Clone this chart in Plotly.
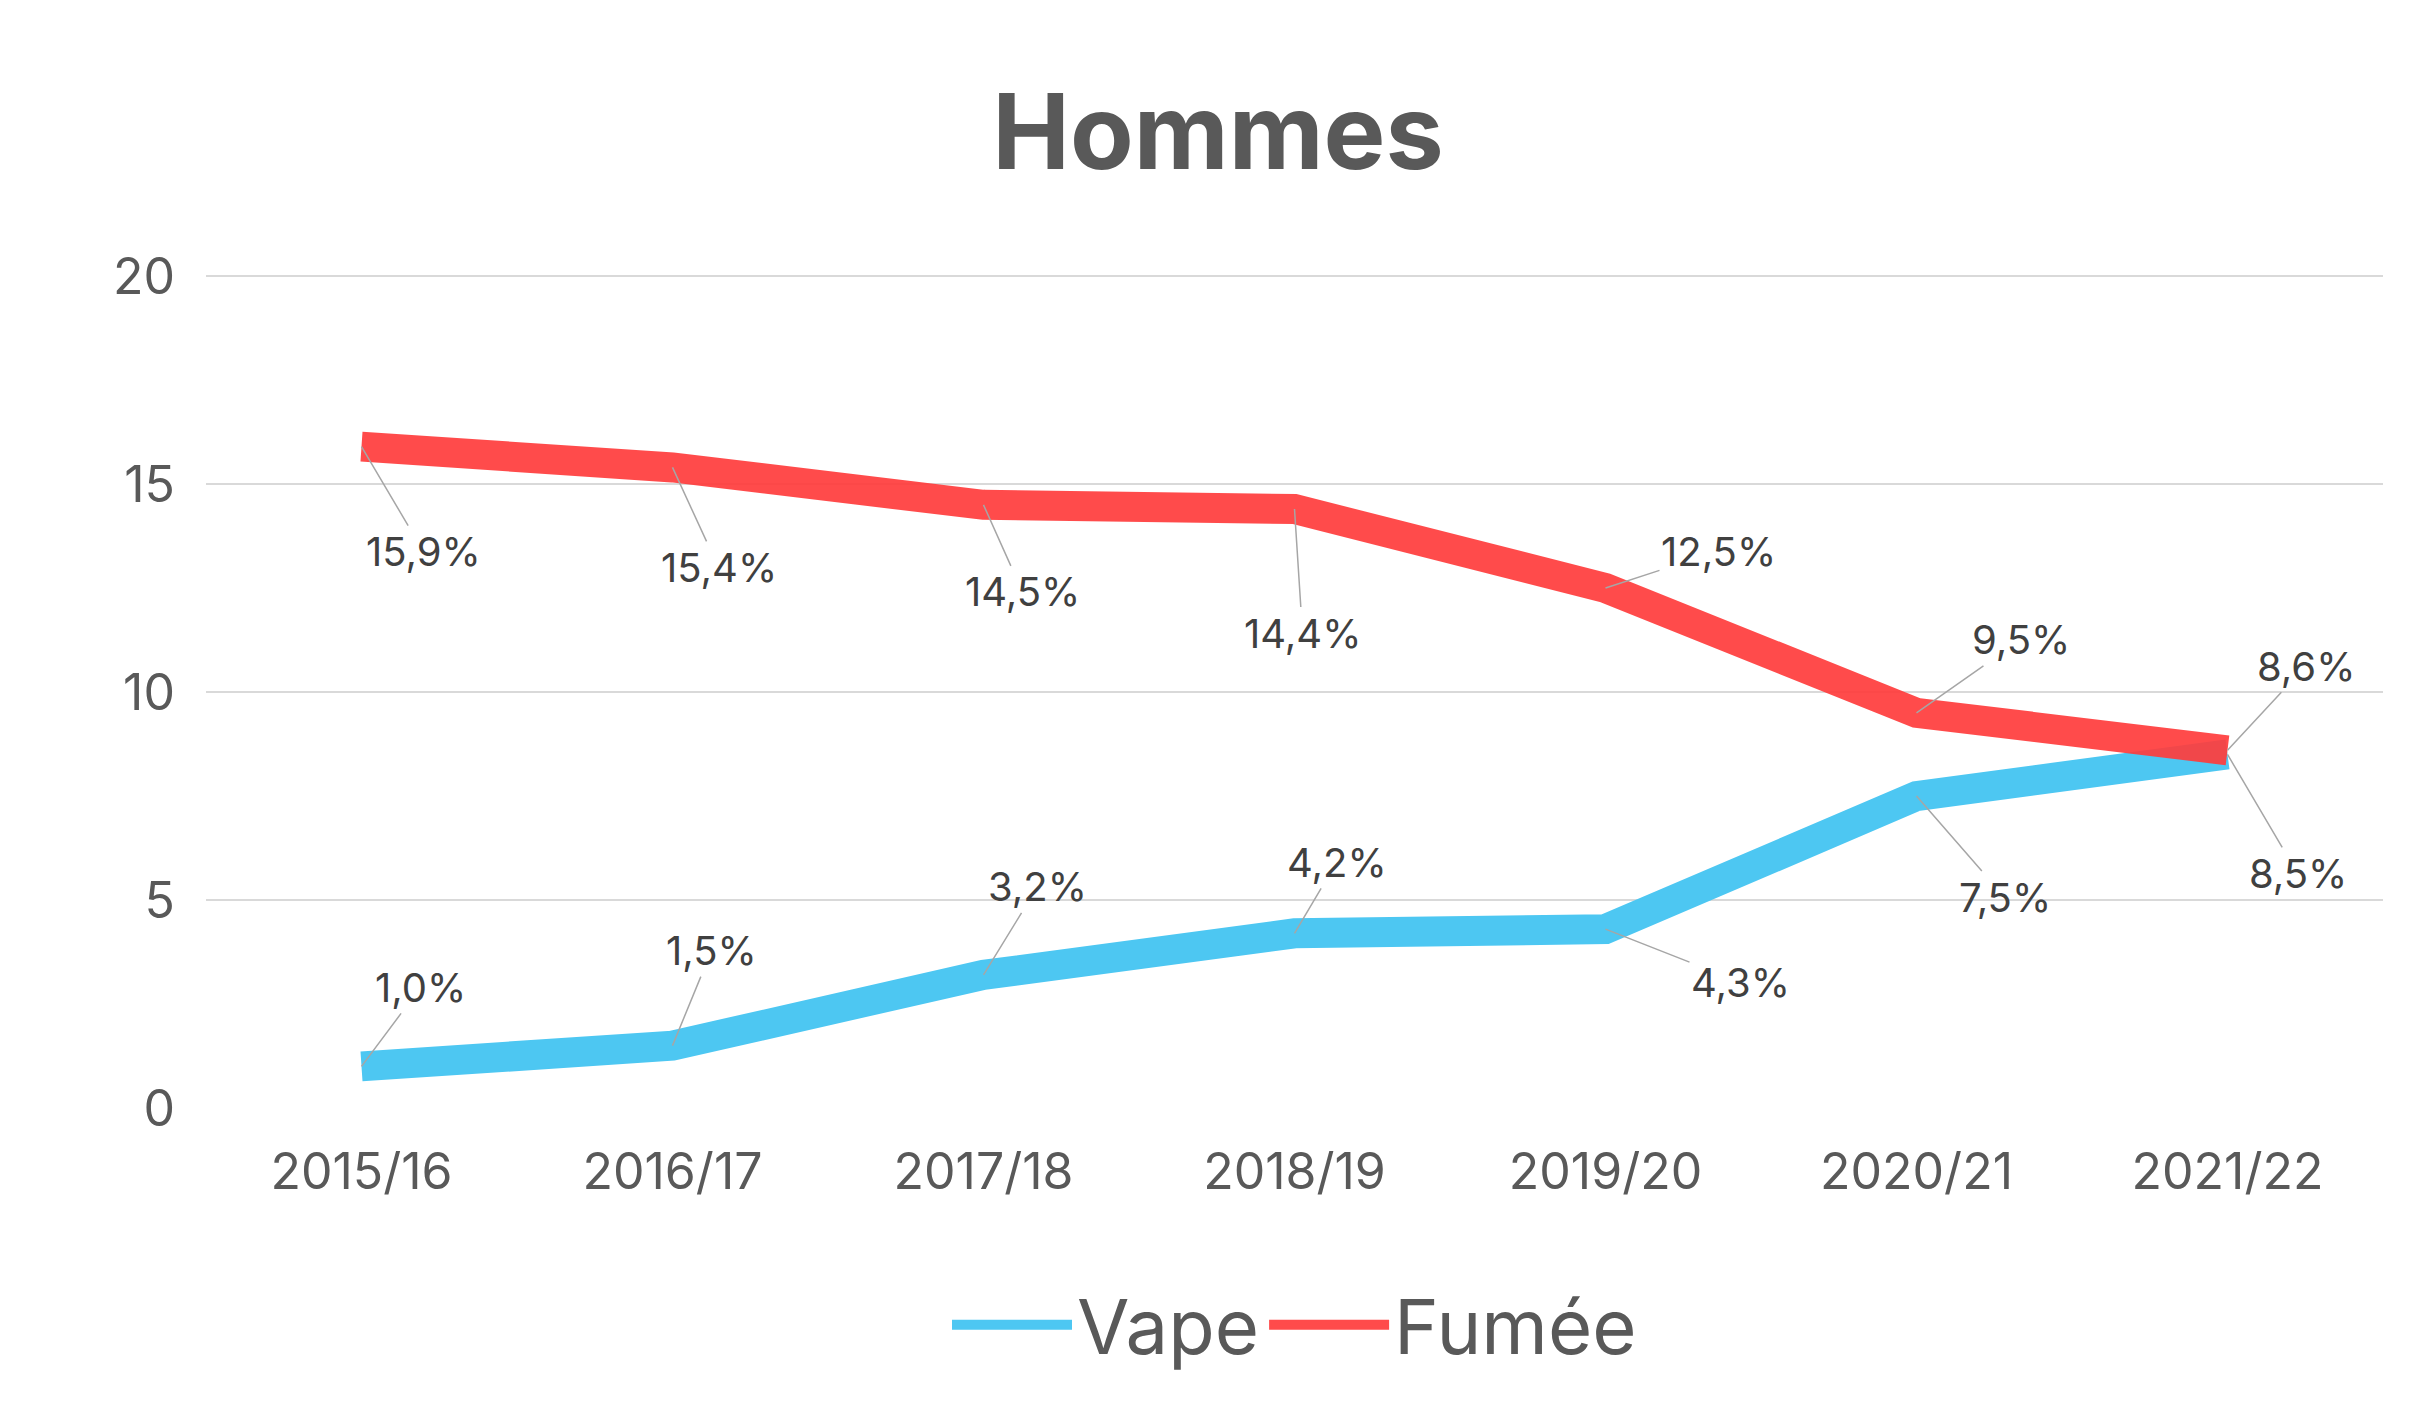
import plotly.graph_objects as go

annees = ["2015/16", "2016/17", "2017/18", "2018/19", "2019/20", "2020/21", "2021/22"]
vape = [1.0, 1.5, 3.2, 4.2, 4.3, 7.5, 8.5]
fumee = [15.9, 15.4, 14.5, 14.4, 12.5, 9.5, 8.6]

# label offsets (pixels) from each point
off_vape = [(59, -79), (39, -95), (54, -88), (42, -71), (135, 53), (88, 101), (70, 119)]
off_fumee = [(62, 105), (46, 100), (39, 87), (8, 124), (113, -37), (104, -73), (78, -84)]

font = "Inter"
fig = go.Figure()
fig.add_trace(go.Scatter(x=annees, y=vape, mode="lines", name="Vape",
                         line=dict(color="#4DC7F2", width=30)))
fig.add_trace(go.Scatter(x=annees, y=fumee, mode="lines", name="Fumée",
                         line=dict(color="rgba(255,60,60,0.92)", width=30)))

def lab(v):
    return f"{v:.1f}".replace(".", ",") + "%"

for vals, offs in ((fumee, off_fumee), (vape, off_vape)):
    for a, v, (dx, dy) in zip(annees, vals, offs):
        fig.add_annotation(x=a, y=v, text=lab(v), ax=dx, ay=dy, showarrow=True,
                           arrowhead=0, arrowwidth=1.5, arrowcolor="#A6A6A6",
                           font=dict(family=font, size=40, color="#404040"))

fig.update_layout(
    width=2420, height=1416, paper_bgcolor="white", plot_bgcolor="white",
    margin=dict(l=198, r=45, t=266, b=316),
    title=dict(text="<b>Hommes</b>", x=0.5, xanchor="center", y=0.912, yanchor="middle",
               font=dict(family=font, size=104, color="#595959")),
    showlegend=True,
    legend=dict(orientation="h", x=0.5, xanchor="center", y=-0.26, yanchor="middle",
                font=dict(family=font, size=76, color="#595959"), itemwidth=120),
    font=dict(family=font, color="#595959"),
)
fig.update_xaxes(range=[-0.5, 6.5], showgrid=False, showline=False, ticks="",
                 tickfont=dict(size=50), ticklabelstandoff=30)
fig.update_yaxes(range=[0, 20.05], tickvals=[0, 5, 10, 15, 20], ticksuffix="%",
                 gridcolor="#D9D9D9", gridwidth=2, showgrid=True,
                 zeroline=False, showline=False, tickfont=dict(size=50), ticklabelstandoff=30)

fig.write_html("out.html")
